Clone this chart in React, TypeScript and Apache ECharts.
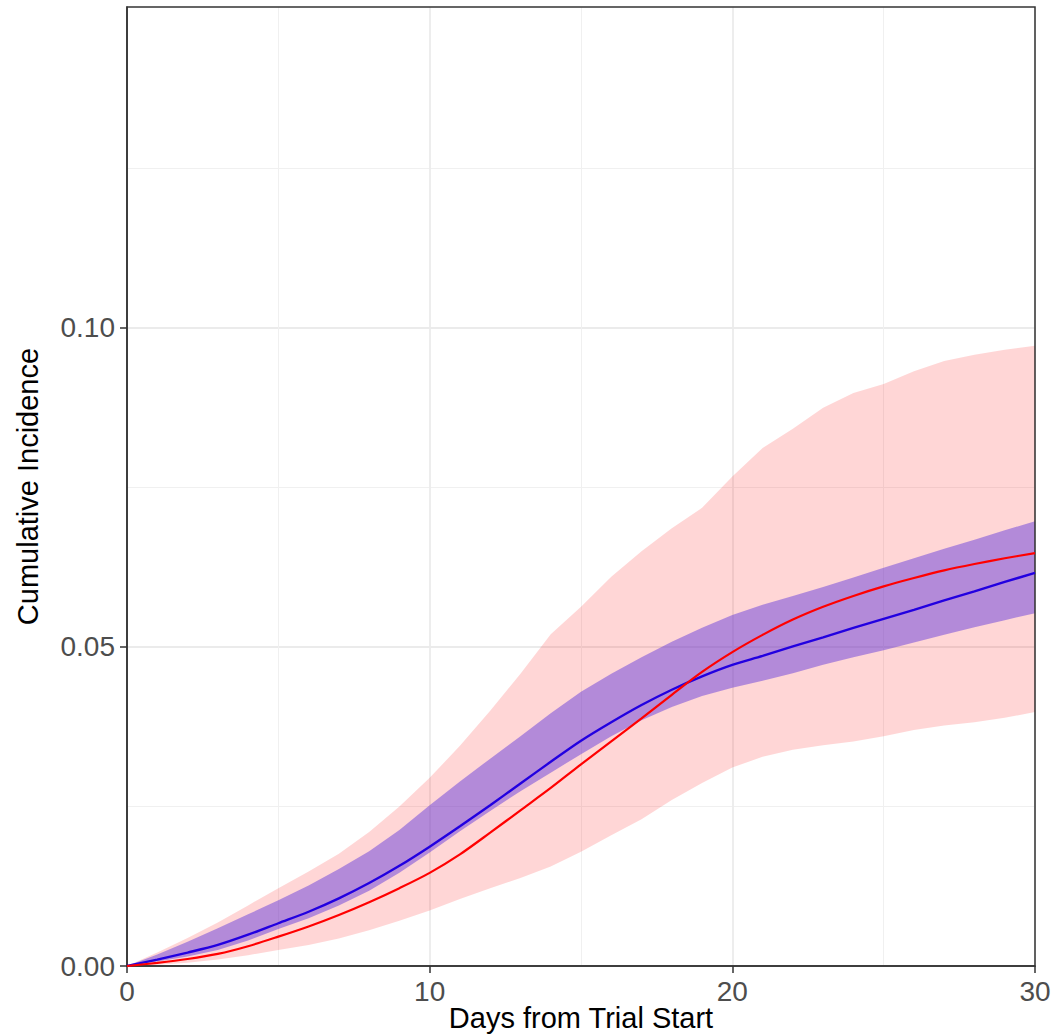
import React, { useEffect, useRef } from "react";
import * as echarts from "echarts";

const days = [0, 1, 2, 3, 4, 5, 6, 7, 8, 9, 10, 11, 12, 13, 14, 15, 16, 17, 18, 19, 20, 21, 22, 23, 24, 25, 26, 27, 28, 29, 30];

const redEstimate = [0, 0.0005, 0.0011, 0.0019, 0.0031, 0.0046, 0.0062, 0.0080, 0.0100, 0.0122, 0.0146, 0.0175, 0.0209, 0.0244, 0.0279, 0.0316, 0.0352, 0.0388, 0.0425, 0.0461, 0.0492, 0.0519, 0.0543, 0.0563, 0.0580, 0.0595, 0.0608, 0.0620, 0.0630, 0.0639, 0.0647];
const redLower = [0, 0.0002, 0.0005, 0.0010, 0.0017, 0.0025, 0.0033, 0.0043, 0.0056, 0.0071, 0.0087, 0.0105, 0.0122, 0.0138, 0.0156, 0.0179, 0.0205, 0.0230, 0.0260, 0.0287, 0.0311, 0.0328, 0.0339, 0.0346, 0.0352, 0.0360, 0.0370, 0.0377, 0.0382, 0.0389, 0.0398];
const redUpper = [0, 0.0021, 0.0044, 0.0068, 0.0095, 0.0122, 0.0148, 0.0176, 0.0210, 0.0250, 0.0295, 0.0345, 0.0400, 0.0458, 0.0520, 0.0563, 0.0610, 0.0650, 0.0686, 0.0718, 0.0767, 0.0812, 0.0842, 0.0875, 0.0898, 0.0912, 0.0932, 0.0948, 0.0958, 0.0966, 0.0972];

const blueEstimate = [0, 0.0010, 0.0021, 0.0033, 0.0049, 0.0067, 0.0085, 0.0106, 0.0130, 0.0157, 0.0187, 0.0219, 0.0252, 0.0286, 0.0320, 0.0353, 0.0382, 0.0409, 0.0433, 0.0454, 0.0472, 0.0486, 0.0501, 0.0515, 0.0530, 0.0544, 0.0558, 0.0573, 0.0587, 0.0602, 0.0616];
const blueLower = [0, 0.0007, 0.0015, 0.0025, 0.0040, 0.0058, 0.0075, 0.0095, 0.0118, 0.0146, 0.0178, 0.0211, 0.0243, 0.0274, 0.0303, 0.0332, 0.0360, 0.0385, 0.0406, 0.0423, 0.0436, 0.0447, 0.0459, 0.0472, 0.0484, 0.0495, 0.0507, 0.0519, 0.0531, 0.0542, 0.0553];
const blueUpper = [0, 0.0018, 0.0038, 0.0059, 0.0081, 0.0103, 0.0126, 0.0152, 0.0180, 0.0213, 0.0252, 0.0289, 0.0325, 0.0360, 0.0396, 0.0430, 0.0458, 0.0484, 0.0508, 0.0530, 0.0550, 0.0566, 0.0580, 0.0594, 0.0609, 0.0624, 0.0639, 0.0654, 0.0668, 0.0683, 0.0697];

const xTicks = [0, 10, 20, 30];
const yTicks = [0, 0.05, 0.1];
const xTitle = "Days from Trial Start";
const yTitle = "Cumulative Incidence";

const FONT = "'Liberation Sans', Arial, sans-serif";

function pairs(ys: number[]) {
  return days.map((d, i) => [d, ys[i]]);
}

function bandSeries(lower: number[], upper: number[], fill: string, z: number) {
  return {
    type: "custom",
    silent: true,
    z,
    clip: true,
    data: days.map((d, i) => [d, lower[i], upper[i]]),
    encode: { x: 0, y: [1, 2] },
    renderItem: (params: any, api: any) => {
      if (params.dataIndex !== 0) return null;
      const pts: number[][] = [];
      for (let i = 0; i < days.length; i++) pts.push(api.coord([days[i], upper[i]]));
      for (let i = days.length - 1; i >= 0; i--) pts.push(api.coord([days[i], lower[i]]));
      return {
        type: "polygon",
        shape: { points: pts },
        style: { fill, stroke: "none" },
      };
    },
  };
}

export default function App() {
  const ref = useRef<HTMLDivElement>(null);
  useEffect(() => {
    if (!ref.current) return;
    const chart = echarts.init(ref.current, undefined, { renderer: "svg" });
    chart.setOption({
      animation: false,
      backgroundColor: "#ffffff",
      grid: {
        left: 127,
        right: 21,
        top: 7,
        bottom: 69,
        containLabel: false,
        outerBoundsMode: "none",
        show: true,
        borderColor: "#333333",
        borderWidth: 1.5,
        backgroundColor: "transparent",
        z: 3,
      },
      xAxis: {
        type: "value",
        min: 0,
        max: 30,
        interval: 10,
        name: xTitle,
        nameLocation: "middle",
        nameGap: 37,
        nameMoveOverlap: false,
        nameTextStyle: { fontFamily: FONT, fontSize: 29, color: "#000000" },
        axisLine: { show: true, onZero: false, lineStyle: { color: "#333333", width: 1.5 } },
        axisTick: { show: true, length: 7, lineStyle: { color: "#333333", width: 1.5 }, customValues: xTicks },
        axisLabel: {
          show: true,
          margin: 11,
          fontFamily: FONT,
          fontSize: 28,
          color: "#4D4D4D",
          customValues: xTicks,
          formatter: (v: number) => String(v),
        },
        splitLine: { show: true, lineStyle: { color: "#EBEBEB", width: 1.8 } },
        minorTick: { show: false, splitNumber: 2 },
        minorSplitLine: { show: true, lineStyle: { color: "#F0F0F0", width: 1 } },
      },
      yAxis: {
        type: "value",
        min: 0,
        max: 0.1503,
        interval: 0.05,
        name: yTitle,
        nameLocation: "middle",
        nameGap: 85,
        nameMoveOverlap: false,
        nameRotate: 90,
        nameTextStyle: { fontFamily: FONT, fontSize: 29, color: "#000000" },
        axisLine: { show: true, onZero: false, lineStyle: { color: "#333333", width: 1.5 } },
        axisTick: { show: true, length: 7, lineStyle: { color: "#333333", width: 1.5 }, customValues: yTicks },
        axisLabel: {
          show: true,
          margin: 12,
          fontFamily: FONT,
          fontSize: 28,
          color: "#4D4D4D",
          customValues: yTicks,
          formatter: (v: number) => v.toFixed(2),
        },
        splitLine: { show: true, lineStyle: { color: "#EBEBEB", width: 1.8 } },
        minorTick: { show: false, splitNumber: 2 },
        minorSplitLine: { show: true, lineStyle: { color: "#F0F0F0", width: 1 } },
      },
      series: [
        bandSeries(redLower, redUpper, "rgba(255,0,0,0.16)", 1),
        bandSeries(blueLower, blueUpper, "rgba(100,60,220,0.49)", 2),
        {
          type: "line",
          name: "blue",
          data: pairs(blueEstimate),
          symbol: "none",
          smooth: 0.3,
          lineStyle: { color: "#2200E0", width: 2.4 },
          z: 4,
        },
        {
          type: "line",
          name: "red",
          data: pairs(redEstimate),
          symbol: "none",
          smooth: 0.3,
          lineStyle: { color: "#FF0000", width: 2.2 },
          z: 5,
        },
      ],
    });
    return () => chart.dispose();
  }, []);
  return (
    <div
      ref={ref}
      style={{ position: "absolute", left: 0, top: 0, width: 1056, height: 1035 }}
    />
  );
}
